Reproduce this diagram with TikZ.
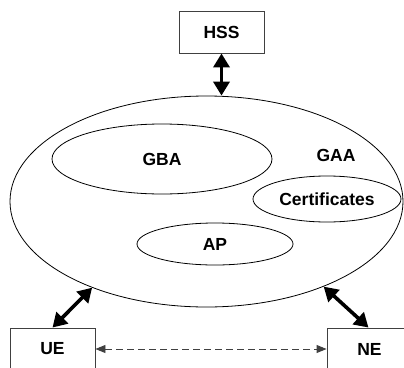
\documentclass[tikz,border=0pt]{standalone}
\usepackage{fontspec}
\setmainfont{Liberation Sans}
\usetikzlibrary{shapes.geometric,arrows.meta}
\begin{document}
\begin{tikzpicture}[x=1pt,y=1pt,
  every node/.style={font=\fontsize{17.5}{21}\selectfont\bfseries},
  entity/.style={draw=black!75, line width=0.9pt, minimum width=85pt, minimum height=42pt, inner sep=0pt},
  area/.style={ellipse, draw, line width=0.8pt, inner sep=0pt},
  bigarrow/.style={line width=3.6pt, {Triangle[length=14pt,width=16pt]}-{Triangle[length=14pt,width=16pt]}},
  peer/.style={draw=black!75, line width=0.9pt, dash pattern=on 7pt off 4pt, {Triangle[length=10pt,width=8pt]}-{Triangle[length=10pt,width=8pt]}}
]
\useasboundingbox (0,0) rectangle (404,-367);
\node[entity] (hss) at (221.5,-32) {HSS};
\node[entity] (ue) at (52.5,-349) {UE};
\node[entity] (ne) at (369.5,-349) {NE};
\node[area, minimum width=393pt, minimum height=211pt] (gaa) at (206.5,-201.5) {};
\node (gaalbl) at (336,-155) {GAA};
\node[area, minimum width=220pt, minimum height=70pt] (gba) at (162,-159) {GBA};
\node[area, minimum width=148pt, minimum height=46pt] (cert) at (327,-199) {Certificates};
\node[area, minimum width=156pt, minimum height=42pt] (ap) at (215,-244) {AP};
\draw[bigarrow] (hss.south) -- (hss.south |- gaa.north);
\draw[bigarrow] (ue.north) -- (gaa.217);
\draw[bigarrow] ([xshift=-1pt]ne.north) -- (gaa.324);
\draw[peer] (ue.east) -- (ne.west);
\end{tikzpicture}
\end{document}
